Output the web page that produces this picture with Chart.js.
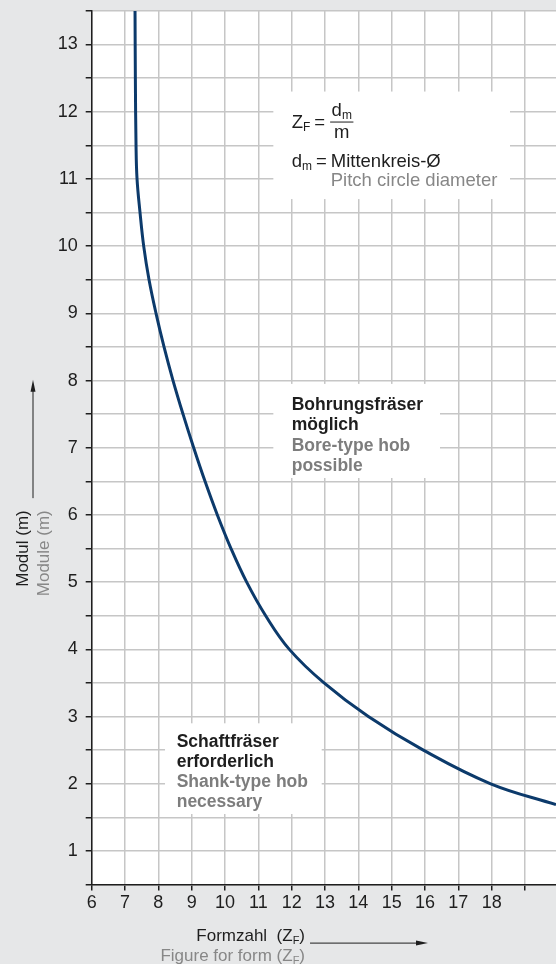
<!DOCTYPE html>
<html lang="de">
<head>
    <meta charset="UTF-8">
    <title>Formzahl / Modul</title>
    <style>
        body {
            margin: 0;
            padding: 0;
            background-color: #e6e7e8;
        }
        canvas {
            display: block;
        }
    </style>
</head>
<body>
    <canvas id="chart" width="556" height="964"></canvas>
    <script src="https://cdn.jsdelivr.net/npm/chart.js"></script>
    <script>
        // curve: Formzahl (Z_F) against Modul (m)
        const formzahl = [7.30, 7.31, 7.33, 7.36, 7.45, 7.56, 7.72, 7.93, 8.17, 8.44, 8.74, 9.06, 9.40, 9.77, 10.18, 10.65, 11.22, 11.93, 12.97, 14.30, 15.95, 17.97, 19.93];
        const modul = [13.5, 12.5, 11.5, 11.0, 10.5, 10.0, 9.5, 9.0, 8.5, 8.0, 7.5, 7.0, 6.5, 6.0, 5.5, 5.0, 4.5, 4.0, 3.5, 3.0, 2.5, 2.0, 1.69];

        const xTickLabels = [6, 7, 8, 9, 10, 11, 12, 13, 14, 15, 16, 17, 18];
        const yTickLabels = [1, 2, 3, 4, 5, 6, 7, 8, 9, 10, 11, 12, 13];

        const boreText = ['Bohrungsfräser', 'möglich'];
        const boreTextEn = ['Bore-type hob', 'possible'];
        const shankText = ['Schaftfräser', 'erforderlich'];
        const shankTextEn = ['Shank-type hob', 'necessary'];

        const FONT = '"Liberation Sans", Arial, Helvetica, sans-serif';
        const DARK = '#1e1e1e';
        const GREY = '#878787';

        // white boxes behind the notes (data coordinates)
        const noteBoxes = [
            { z0: 11.45, z1: 18.55, m0: 10.7, m1: 12.3 },
            { z0: 11.45, z1: 16.45, m0: 6.55, m1: 7.95 },
            { z0: 8.2, z1: 12.9, m0: 1.55, m1: 2.9 }
        ];

        // text with a subscript part, parts = [[text, isSub], ...]
        function richWidth(ctx, parts, size) {
            let w = 0;
            parts.forEach(([t, sub]) => {
                ctx.font = `${sub ? Math.round(size * 0.64) : size}px ${FONT}`;
                w += ctx.measureText(t).width;
            });
            return w;
        }

        function drawRich(ctx, parts, x, y, size) {
            parts.forEach(([t, sub]) => {
                ctx.font = `${sub ? Math.round(size * 0.64) : size}px ${FONT}`;
                ctx.fillText(t, x, sub ? y + 3 : y);
                x += ctx.measureText(t).width;
            });
            return x;
        }

        function drawLines(ctx, lines, x, y, lh, color) {
            ctx.fillStyle = color;
            lines.forEach((t, i) => ctx.fillText(t, x, y + i * lh));
        }

        const notesPlugin = {
            id: 'notes',
            beforeDraw(chart) {
                const { ctx, chartArea: a } = chart;
                ctx.save();
                ctx.fillStyle = '#e6e7e8';
                ctx.fillRect(0, 0, chart.width, chart.height);
                ctx.fillStyle = '#ffffff';
                ctx.fillRect(a.left, a.top, a.right - a.left, a.bottom - a.top);
                ctx.restore();
            },
            beforeDatasetsDraw(chart) {
                const { ctx, scales: { x, y } } = chart;
                ctx.save();
                ctx.fillStyle = '#ffffff';
                noteBoxes.forEach(b => {
                    const l = x.getPixelForValue(b.z0), r = x.getPixelForValue(b.z1);
                    const t = y.getPixelForValue(b.m1), btm = y.getPixelForValue(b.m0);
                    ctx.fillRect(l, t, r - l, btm - t);
                });

                ctx.textBaseline = 'alphabetic';
                ctx.textAlign = 'left';

                // formula
                const size = 18.5;
                const fx = x.getPixelForValue(12.0);
                const fy = y.getPixelForValue(11.757);
                ctx.fillStyle = DARK;
                let cx = drawRich(ctx, [['Z', false], ['F', true]], fx, fy, size) + 4;
                cx = drawRich(ctx, [['=', false]], cx, fy, size) + 5;
                const num = [['d', false], ['m', true]];
                const numW = richWidth(ctx, num, size);
                ctx.font = `${size}px ${FONT}`;
                const denW = ctx.measureText('m').width;
                const barW = Math.max(numW, denW) + 3;
                ctx.fillRect(cx, fy - 6.5, barW, 1);
                drawRich(ctx, num, cx + (barW - numW) / 2, fy - 12, size);
                ctx.font = `${size}px ${FONT}`;
                ctx.fillText('m', cx + (barW - denW) / 2, fy + 10);

                let mx = drawRich(ctx, num, fx, fy + 39, size) + 4;
                mx = drawRich(ctx, [['=', false]], mx, fy + 39, size) + 4;
                ctx.font = `${size}px ${FONT}`;
                ctx.fillText('Mittenkreis-Ø', mx, fy + 39);
                ctx.fillStyle = GREY;
                ctx.fillText('Pitch circle diameter', mx, fy + 58);

                // region notes
                ctx.font = `bold 17.5px ${FONT}`;
                const bx = x.getPixelForValue(12.0), by = y.getPixelForValue(7.56);
                drawLines(ctx, boreText, bx, by, 20, DARK);
                drawLines(ctx, boreTextEn, bx, by + 40.5, 20, '#7d7d7d');

                const sx = x.getPixelForValue(8.55), sy = y.getPixelForValue(2.546);
                drawLines(ctx, shankText, sx, sy, 20, DARK);
                drawLines(ctx, shankTextEn, sx, sy + 40, 19.5, '#7d7d7d');
                ctx.restore();
            },
            afterDraw(chart) {
                const { ctx, chartArea: a, scales: { x, y } } = chart;
                const size = 17;
                ctx.save();
                ctx.textBaseline = 'alphabetic';
                ctx.textAlign = 'left';

                // x title
                const xr = x.getPixelForValue(12.4);
                const t1 = [['Formzahl  (Z', false], ['F', true], [')', false]];
                const t2 = [['Figure for form (Z', false], ['F', true], [')', false]];
                ctx.fillStyle = DARK;
                drawRich(ctx, t1, xr - richWidth(ctx, t1, size), a.bottom + 56.5, size);
                ctx.fillStyle = GREY;
                drawRich(ctx, t2, xr - richWidth(ctx, t2, size), a.bottom + 76.5, size);

                const ay = a.bottom + 58.5;
                const ax1 = x.getPixelForValue(16.09);
                ctx.strokeStyle = DARK;
                ctx.fillStyle = DARK;
                ctx.lineWidth = 1;
                ctx.beginPath();
                ctx.moveTo(xr + 5, ay);
                ctx.lineTo(ax1 - 8, ay);
                ctx.stroke();
                ctx.beginPath();
                ctx.moveTo(ax1, ay);
                ctx.lineTo(ax1 - 12, ay - 2.5);
                ctx.lineTo(ax1 - 12, ay + 2.5);
                ctx.closePath();
                ctx.fill();

                // y title, rotated
                const ty = y.getPixelForValue(6.07);
                const y1 = [['Modul (m)', false]];
                const y2 = [['Module (m)', false]];
                ctx.save();
                ctx.translate(27.5, ty);
                ctx.rotate(-Math.PI / 2);
                ctx.fillStyle = DARK;
                drawRich(ctx, y1, -richWidth(ctx, y1, size), 0, size);
                ctx.restore();
                ctx.save();
                ctx.translate(49, ty);
                ctx.rotate(-Math.PI / 2);
                ctx.fillStyle = GREY;
                drawRich(ctx, y2, -richWidth(ctx, y2, size), 0, size);
                ctx.restore();

                const vx = 33;
                const vy0 = y.getPixelForValue(6.25), vy1 = y.getPixelForValue(8.01);
                ctx.beginPath();
                ctx.moveTo(vx, vy0);
                ctx.lineTo(vx, vy1 + 8);
                ctx.stroke();
                ctx.beginPath();
                ctx.moveTo(vx, vy1);
                ctx.lineTo(vx - 2.5, vy1 + 12);
                ctx.lineTo(vx + 2.5, vy1 + 12);
                ctx.closePath();
                ctx.fill();
                ctx.restore();
            }
        };

        const gridStyle = {
            color: '#c6c6c6',
            lineWidth: 1.5,
            tickLength: 6,
            tickColor: DARK,
            tickWidth: 1.5
        };

        new Chart(document.getElementById('chart').getContext('2d'), {
            type: 'line',
            data: {
                datasets: [{
                    data: formzahl.map((z, i) => ({ x: z, y: modul[i] })),
                    borderColor: '#0c3a6b',
                    borderWidth: 3,
                    pointRadius: 0,
                    fill: false,
                    tension: 0.4
                }]
            },
            options: {
                responsive: false,
                animation: false,
                layout: { padding: { top: 10.9, right: 0, left: 0, bottom: 0 } },
                plugins: {
                    legend: { display: false },
                    tooltip: { enabled: false }
                },
                scales: {
                    x: {
                        type: 'linear',
                        min: 6,
                        max: 19.93,
                        border: { color: DARK, width: 1.5 },
                        grid: gridStyle,
                        ticks: {
                            stepSize: 1,
                            includeBounds: false,
                            autoSkip: false,
                            maxRotation: 0,
                            padding: 2,
                            color: DARK,
                            font: { size: 18, family: FONT },
                            callback: v => xTickLabels.includes(v) ? v : ''
                        },
                        afterFit: s => {
                            s.height = 79.4;
                            s.paddingLeft = 0;
                            s.paddingRight = 0;
                        }
                    },
                    y: {
                        type: 'linear',
                        min: 0.5,
                        max: 13.5,
                        border: { color: DARK, width: 1.5 },
                        grid: gridStyle,
                        ticks: {
                            stepSize: 0.5,
                            includeBounds: false,
                            autoSkip: false,
                            padding: 8,
                            color: DARK,
                            font: { size: 18, family: FONT },
                            callback: v => yTickLabels.includes(v) ? v : ''
                        },
                        afterFit: s => {
                            s.width = 91.7;
                            s.paddingTop = 0;
                            s.paddingBottom = 0;
                        }
                    }
                }
            },
            plugins: [notesPlugin]
        });
    </script>
</body>
</html>
